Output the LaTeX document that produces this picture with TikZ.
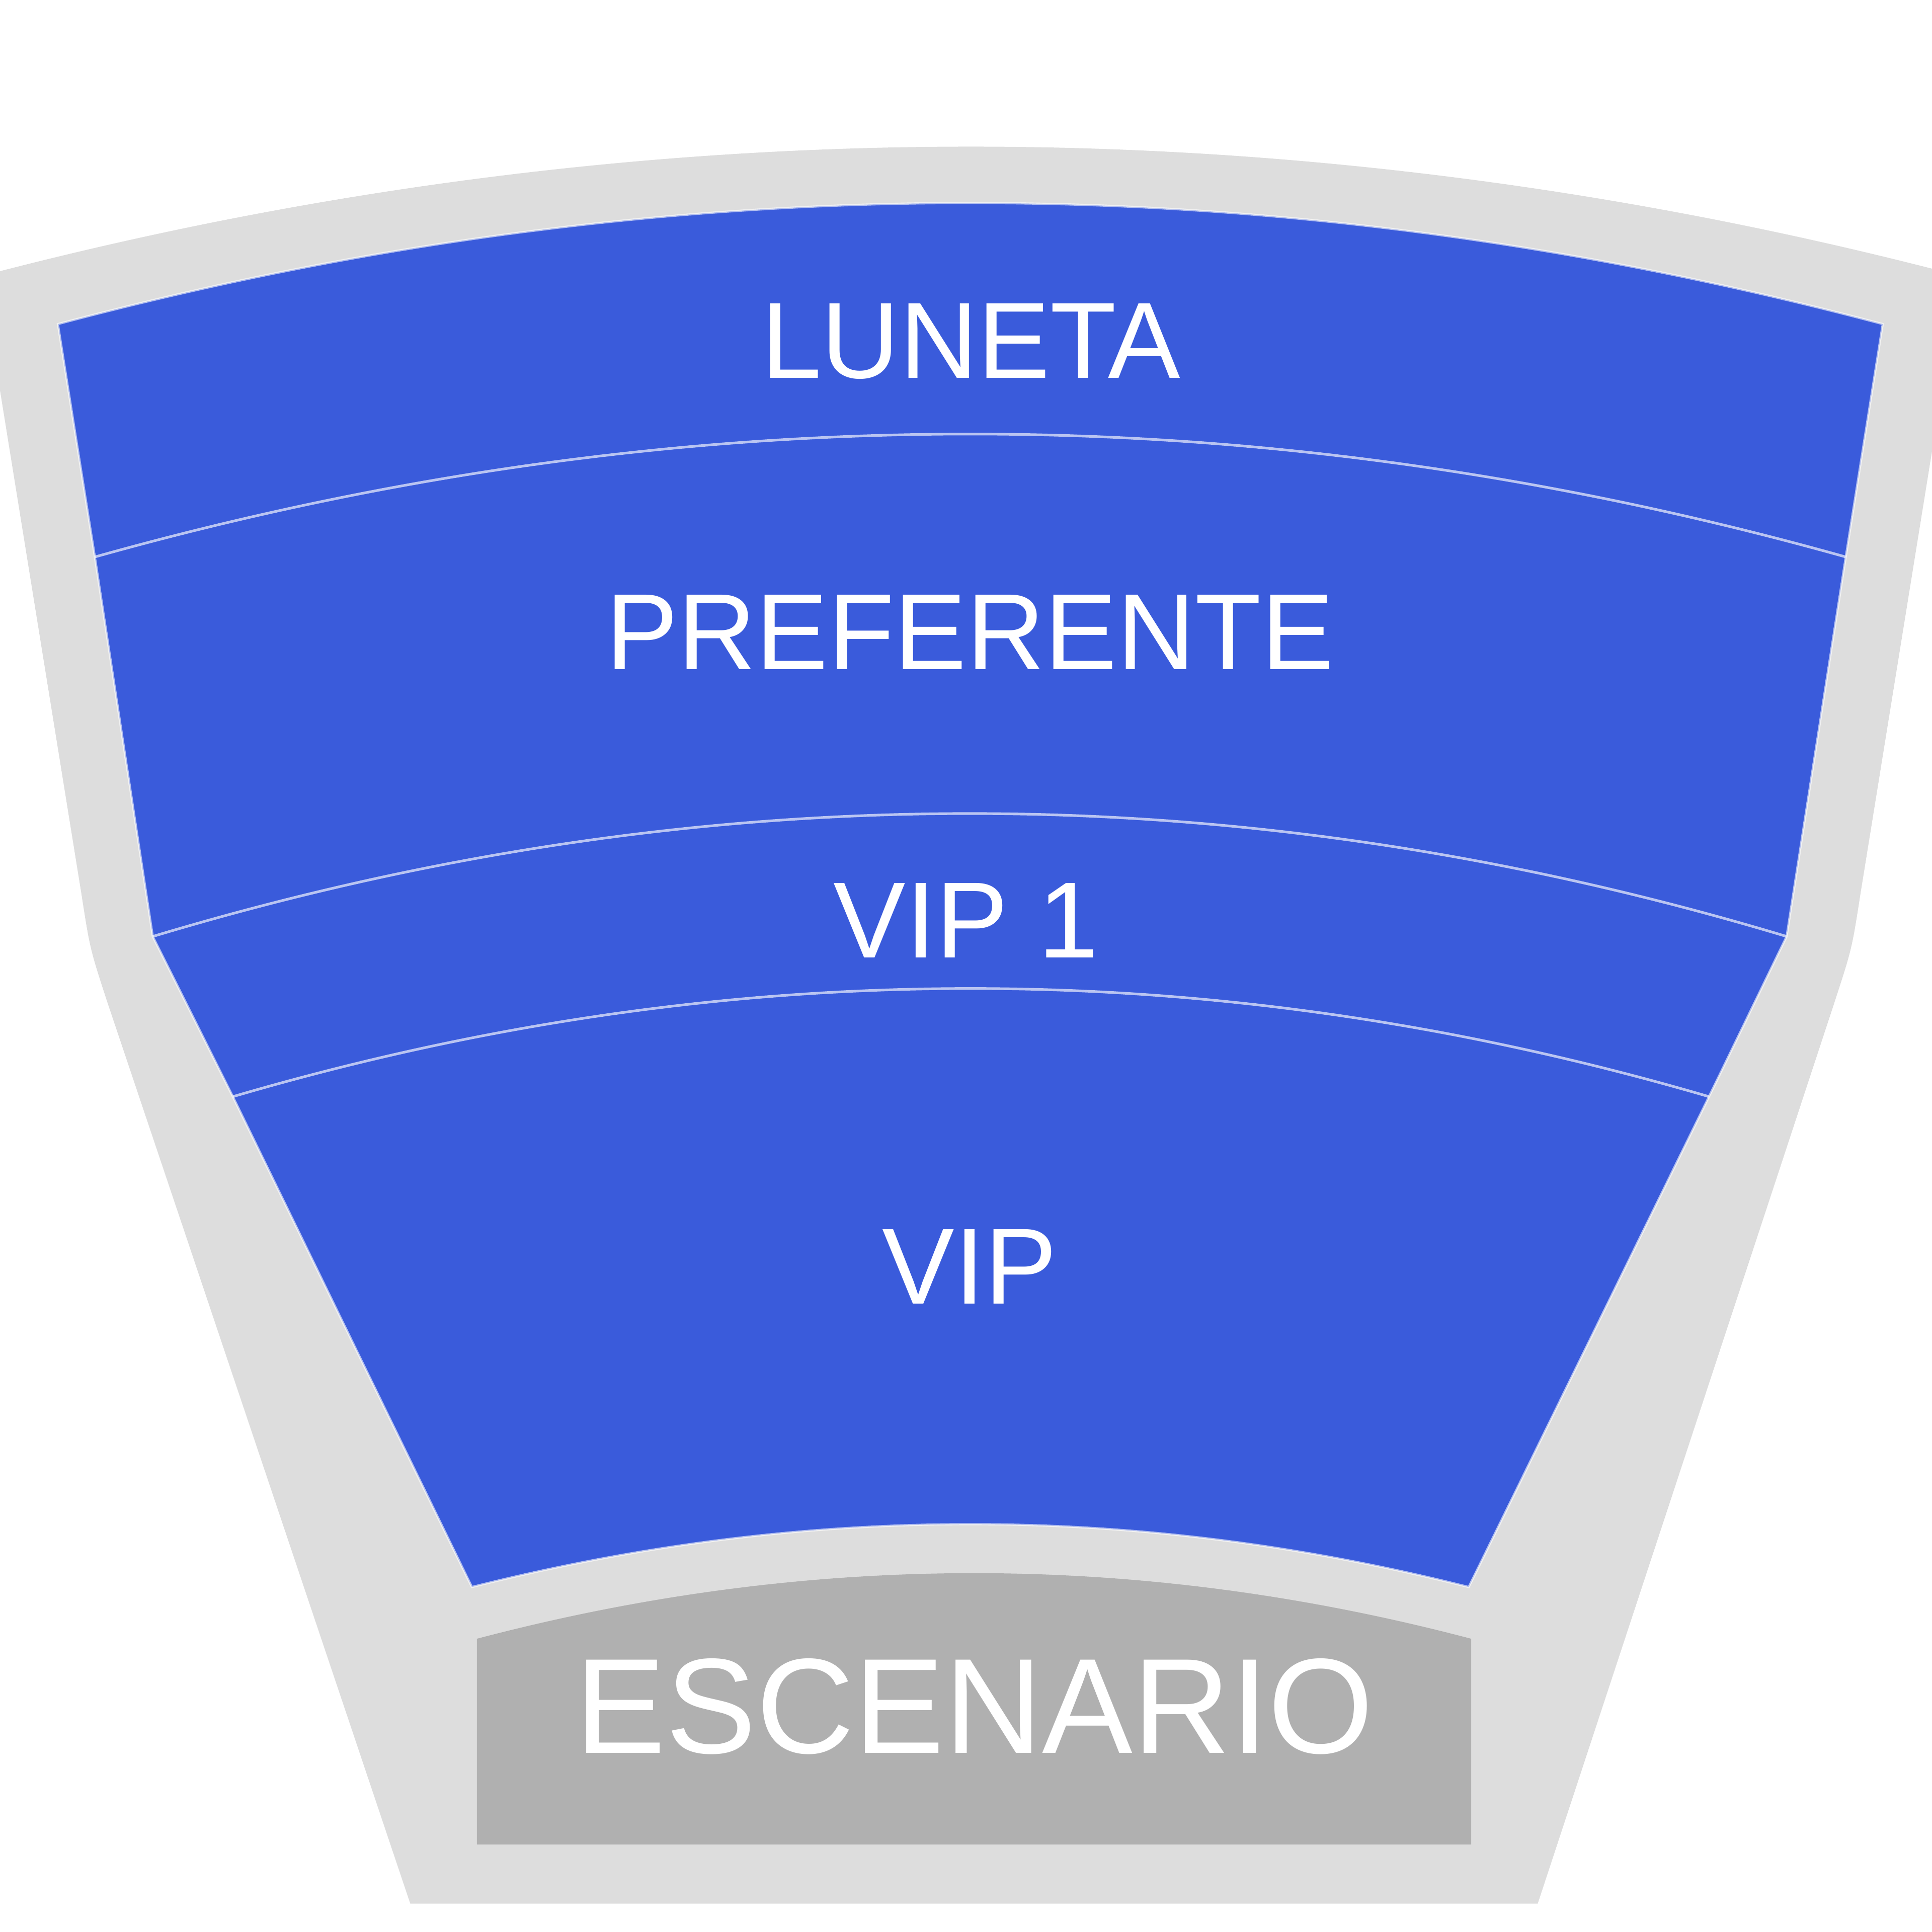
\documentclass[tikz,border=0pt]{standalone}
\usepackage{fontspec}
\setmainfont{Liberation Sans}
\usepackage{tikz}
\definecolor{seatblue}{HTML}{3A5BDB}
\definecolor{hallgrey}{HTML}{DDDDDD}
\definecolor{stagegrey}{HTML}{B0B0B0}
\tikzset{
    hall/.style = {fill=hallgrey},
    seats/.style = {fill=seatblue, draw=white, draw opacity=0.6, line width=0.5pt},
    divider/.style = {draw=white, draw opacity=0.65, line width=0.6pt},
    stagearea/.style = {fill=stagegrey},
    zonelabel/.style = {text=white, inner sep=0pt, font=\fontsize{25}{29}\selectfont},
    stagelabel/.style = {zonelabel, font=\fontsize{31.3}{35}\selectfont},
}

\begin{document}
\begin{tikzpicture}[x=0.1mm, y=-0.1mm]
        \useasboundingbox (0,0) rectangle (1568,1568);
        \clip (0,0) rectangle (1568,1568);
        % hall outline
        \fill [hall] (-15,224) .. controls (517,84) and (1059,84) .. (1591,224)
            -- (1510,725) .. controls (1503,770) .. (1489,813)
            -- (1248,1545) -- (333,1545) -- (87,813)
            .. controls (73,770) .. (66,725) -- cycle;
        % seating zones
        \filldraw [seats] (47,263) .. controls (541,132) and (1034,132) .. (1528,263)
            -- (1498,452) -- (1450,760) -- (1387,890) -- (1192,1288)
            .. controls (922,1220) and (653,1220) .. (383,1288)
            -- (189,890) -- (124,760) -- (77,452) -- cycle;
        \draw [divider] (77,452) .. controls (551,319) and (1024,319) .. (1498,452);
        \draw [divider] (124,760) .. controls (566,627) and (1008,627) .. (1450,760);
        \draw [divider] (189,890) .. controls (588,773) and (987,773) .. (1387,890);
        % stage
        \fill [stagearea] (387,1497) -- (387,1330)
            .. controls (656,1259) and (925,1259) .. (1194,1330) -- (1194,1497) -- cycle;
        \node [zonelabel] (luneta) at (788,277) {LUNETA};
        \node [zonelabel] (preferente) at (787,513) {PREFERENTE};
        \node [zonelabel] (vipone) at (784,747) {VIP 1};
        \node [zonelabel] (vip) at (787,1028) {VIP};
        \node [stagelabel] (escenario) at (791,1385) {ESCENARIO};
\end{tikzpicture}
\end{document}
